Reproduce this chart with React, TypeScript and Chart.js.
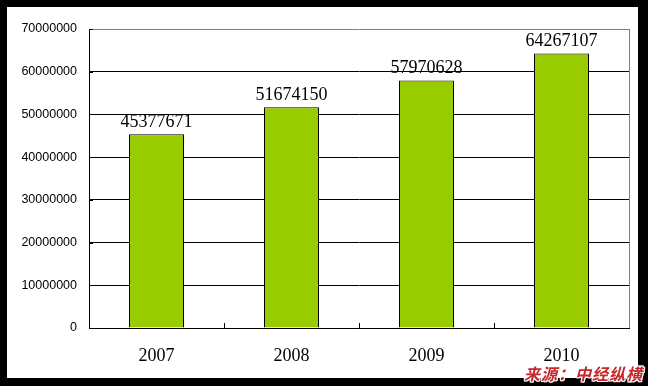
import React, { useEffect, useRef } from "react";
import { Chart, registerables } from "chart.js";
Chart.register(...registerables);

const categories = ["2007", "2008", "2009", "2010"];
const values = [45377671, 51674150, 57970628, 64267107];
const yMin = 0;
const yMax = 70000000;
const yStep = 10000000;
const sourceText = "来源：中经纵横";

const framePlugin = {
  id: "frame",
  beforeDraw(chart: any) {
    const { ctx, width, height } = chart;
    ctx.save();
    ctx.fillStyle = "#000";
    ctx.fillRect(0, 0, width, height);
    ctx.fillStyle = "#fff";
    ctx.fillRect(7, 7, 631, 371);
    ctx.restore();
  },
  afterDraw(chart: any) {
    const { ctx, chartArea } = chart;
    const { left, right, top, bottom } = chartArea;
    ctx.save();
    ctx.lineWidth = 1;
    ctx.strokeStyle = "#808080";
    ctx.beginPath();
    ctx.moveTo(Math.round(right) + 0.5, top);
    ctx.lineTo(Math.round(right) + 0.5, bottom);
    ctx.stroke();
    ctx.strokeStyle = "#000";
    const n = categories.length;
    for (let i = 1; i < n; i++) {
      const x = Math.round(left + (i * (right - left)) / n) + 0.5;
      ctx.beginPath();
      ctx.moveTo(x, bottom);
      ctx.lineTo(x, bottom - 5);
      ctx.stroke();
    }
    const ys = chart.scales.y;
    for (let v = yMin; v <= yMax; v += yStep) {
      const y = Math.round(ys.getPixelForValue(v)) + 0.5;
      ctx.beginPath();
      ctx.moveTo(left, y);
      ctx.lineTo(left + 4, y);
      ctx.stroke();
    }
    ctx.restore();
  },
  afterDatasetsDraw(chart: any) {
    const { ctx } = chart;
    const meta = chart.getDatasetMeta(0);
    ctx.save();
    ctx.font = '18px "Liberation Serif", serif';
    ctx.fillStyle = "#000";
    ctx.textAlign = "center";
    ctx.textBaseline = "alphabetic";
    meta.data.forEach((bar: any, i: number) => {
      ctx.fillText(String(values[i]), bar.x, bar.y - 7);
    });
    ctx.restore();
  },
};

export default function App() {
  const ref = useRef<HTMLCanvasElement>(null);
  useEffect(() => {
    if (!ref.current) return;
    const chart = new Chart(ref.current, {
      type: "bar",
      data: {
        labels: categories,
        datasets: [
          {
            data: values,
            backgroundColor: "#99CC00",
            borderColor: "#000",
            borderWidth: 1,
            barPercentage: 55 / 135,
            categoryPercentage: 1,
          },
        ],
      },
      options: {
        responsive: false,
        animation: false,
        events: [],
        layout: { padding: { left: 0, top: 29, right: 19, bottom: 0 } },
        plugins: { legend: { display: false }, tooltip: { enabled: false } },
        scales: {
          x: {
            grid: { display: false, drawTicks: false },
            border: { display: true, color: "#000", width: 1 },
            ticks: {
              color: "#000",
              padding: 17,
              font: { family: '"Liberation Serif", serif', size: 18 },
            },
            afterFit(scale: any) {
              scale.height = 58;
            },
          },
          y: {
            min: yMin,
            max: yMax,
            grid: {
              drawTicks: false,
              color: (c: any) => (c.tick && c.tick.value === yMax ? "#808080" : "#000"),
            },
            border: { display: true, color: "#000", width: 1 },
            ticks: {
              stepSize: yStep,
              color: "#000",
              padding: 12,
              font: { family: '"Liberation Sans", Arial, sans-serif', size: 12.5 },
              callback: (v: any) => String(v),
            },
            afterFit(scale: any) {
              scale.width = 89;
            },
          },
        },
      },
      plugins: [framePlugin],
    });
    return () => chart.destroy();
  }, []);
  return (
    <div style={{ position: "absolute", left: 0, top: 0, width: 648, height: 386 }}>
      <canvas ref={ref} width={648} height={386} style={{ display: "block" }} />
      <div
        style={{
          position: "absolute",
          left: 524,
          top: 362,
          fontFamily: '"Noto Sans CJK SC", sans-serif',
          fontWeight: 700,
          fontStyle: "italic",
          fontSize: 16,
          lineHeight: "22px",
          color: "#C8262A",
          whiteSpace: "nowrap",
          letterSpacing: 1,
          textShadow:
            "1px 1px 0 #fff, -1px -1px 0 #fff, 1px -1px 0 #fff, -1px 1px 0 #fff, 0 1px 0 #fff, 1px 0 0 #fff, 0 -1px 0 #fff, -1px 0 0 #fff",
        }}
      >
        {sourceText}
      </div>
    </div>
  );
}
